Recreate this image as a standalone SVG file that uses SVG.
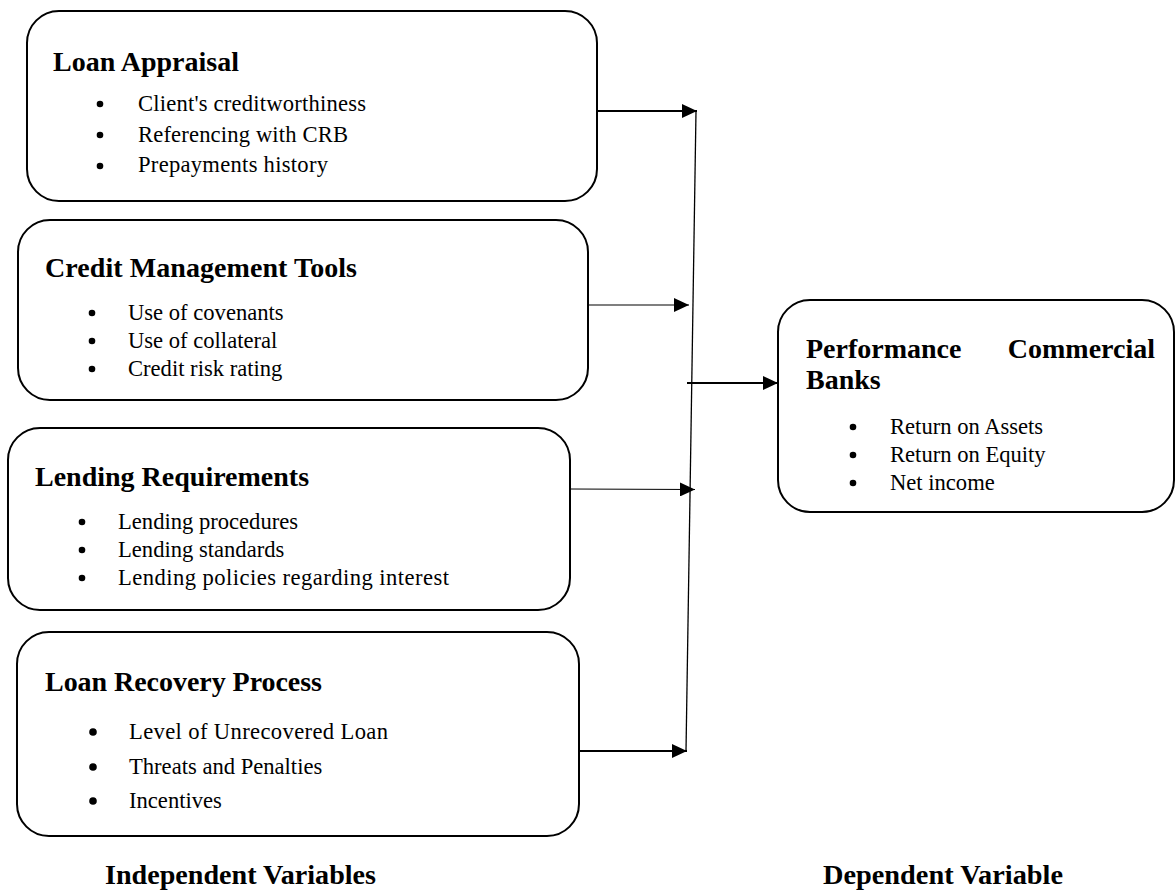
<svg xmlns="http://www.w3.org/2000/svg" width="1176" height="891" viewBox="0 0 1176 891">
<style>
  .box { fill: #fff; stroke: #000; stroke-width: 2; }
  .title { font-family: "Liberation Serif", "Times New Roman", serif; font-weight: bold; font-size: 28px; fill: #000; }
  .item { font-family: "Liberation Serif", "Times New Roman", serif; font-size: 22.6px; fill: #000; }
  .bul { fill: #000; }
  .lbl { font-family: "Liberation Serif", "Times New Roman", serif; font-weight: bold; font-size: 28px; fill: #000; }
  .conn { stroke: #000; fill: none; }
</style>
<defs>
  <marker id="ah" markerUnits="userSpaceOnUse" markerWidth="16" markerHeight="14" refX="15" refY="7" orient="auto">
    <path d="M0,0 L15,7 L0,14 z" fill="#000"/>
  </marker>
</defs>
<rect width="1176" height="891" fill="#fff"/>

<g id="connectors">
  <line class="conn" x1="696" y1="111" x2="686" y2="751" stroke="#555" stroke-width="1.3"/>
  <line class="conn" x1="597" y1="111" x2="697" y2="111" stroke-width="2.2" marker-end="url(#ah)"/>
  <line class="conn" x1="588" y1="305" x2="689" y2="305" stroke-width="1.2" marker-end="url(#ah)"/>
  <line class="conn" x1="570" y1="489" x2="695" y2="489.5" stroke-width="1.2" marker-end="url(#ah)"/>
  <line class="conn" x1="579" y1="751" x2="687" y2="751" stroke-width="2.2" marker-end="url(#ah)"/>
  <line class="conn" x1="687" y1="383" x2="778" y2="383" stroke-width="2" marker-end="url(#ah)"/>
</g>

<g id="loan-appraisal">
  <rect class="box" x="27" y="11" width="570" height="190" rx="32"/>
  <text class="title" x="53" y="71">Loan Appraisal</text>
  <circle class="bul" cx="100" cy="104" r="3.3"/>
  <circle class="bul" cx="100" cy="135" r="3.3"/>
  <circle class="bul" cx="100" cy="166" r="3.3"/>
  <text class="item" x="138" y="111" textLength="228">Client's creditworthiness</text>
  <text class="item" x="138" y="142" textLength="210">Referencing with CRB</text>
  <text class="item" x="138" y="172" textLength="190">Prepayments history</text>
</g>

<g id="credit-management-tools">
  <rect class="box" x="18" y="220" width="570" height="180" rx="32"/>
  <text class="title" x="45" y="277" textLength="312">Credit Management Tools</text>
  <circle class="bul" cx="92" cy="313" r="3.3"/>
  <circle class="bul" cx="92" cy="341" r="3.3"/>
  <circle class="bul" cx="92" cy="369" r="3.3"/>
  <text class="item" x="128" y="320">Use of covenants</text>
  <text class="item" x="128" y="348">Use of collateral</text>
  <text class="item" x="128" y="376">Credit risk rating</text>
</g>

<g id="lending-requirements">
  <rect class="box" x="8" y="428" width="562" height="182" rx="32"/>
  <text class="title" x="35" y="486">Lending Requirements</text>
  <circle class="bul" cx="82" cy="522" r="3.3"/>
  <circle class="bul" cx="82" cy="550" r="3.3"/>
  <circle class="bul" cx="82" cy="578" r="3.3"/>
  <text class="item" x="118" y="529">Lending procedures</text>
  <text class="item" x="118" y="557">Lending standards</text>
  <text class="item" x="118" y="585" textLength="331">Lending  policies regarding interest</text>
</g>

<g id="loan-recovery-process">
  <rect class="box" x="17" y="632" width="562" height="204" rx="32"/>
  <text class="title" x="45" y="691" textLength="277">Loan Recovery Process</text>
  <circle class="bul" cx="93" cy="732" r="3.8"/>
  <circle class="bul" cx="93" cy="767" r="3.8"/>
  <circle class="bul" cx="93" cy="801" r="3.8"/>
  <text class="item" x="129" y="739" textLength="259">Level of Unrecovered Loan</text>
  <text class="item" x="129" y="774">Threats and Penalties</text>
  <text class="item" x="129" y="808">Incentives</text>
</g>

<g id="performance-commercial-banks">
  <rect class="box" x="778" y="300" width="396" height="212" rx="32"/>
  <text class="title" x="806" y="358">Performance</text>
  <text class="title" x="1155" y="358" text-anchor="end">Commercial</text>
  <text class="title" x="806" y="389">Banks</text>
  <circle class="bul" cx="853" cy="427" r="3.3"/>
  <circle class="bul" cx="853" cy="455" r="3.3"/>
  <circle class="bul" cx="853" cy="483" r="3.3"/>
  <text class="item" x="890" y="434">Return on Assets</text>
  <text class="item" x="890" y="462">Return on Equity</text>
  <text class="item" x="890" y="490">Net income</text>
</g>

<g id="labels">
  <text class="lbl" x="105" y="884" textLength="271" lengthAdjust="spacingAndGlyphs">Independent Variables</text>
  <text class="lbl" x="823" y="884" textLength="240" lengthAdjust="spacingAndGlyphs">Dependent Variable</text>
</g>
</svg>
